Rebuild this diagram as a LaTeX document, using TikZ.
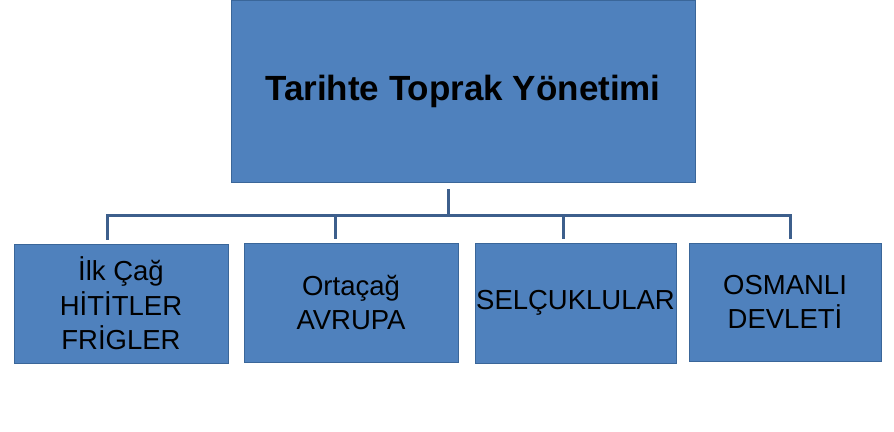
\documentclass[tikz,border=0pt]{standalone}
\usepackage{fontspec}
\setmainfont{Liberation Sans}
\definecolor{boxblue}{HTML}{4F81BD}
\definecolor{boxedge}{HTML}{3A6699}
\definecolor{linkblue}{HTML}{3D5F8C}
\begin{document}
\begin{tikzpicture}[x=1pt,y=-1pt,
                    main node/.style={rectangle,fill=boxblue,draw=boxedge,line width=0.8pt,
                                      inner sep=0pt,align=center,text=black},
                    title node/.style={main node,font=\bfseries\fontsize{35}{42}\selectfont},
                    era node/.style={main node,font=\fontsize{27.5}{34.5}\selectfont},
                    link/.style={draw=linkblue,line width=3pt}]
        \useasboundingbox (0,0) rectangle (894,431);

        \node[title node,minimum width=464pt,minimum height=182pt] (top) at (463,91) {Tarihte Toprak Yönetimi};

        \node[era node,minimum width=214pt,minimum height=119pt] (ilk) at (121,303.5) {İlk Çağ\\HİTİTLER\\FRİGLER};
        \node[era node,minimum width=214pt,minimum height=119pt] (orta) at (351,302.5) {Ortaçağ\\AVRUPA};
        \node[era node,minimum width=201pt,minimum height=120pt] (selcuk) at (575.5,303) {SELÇUKLULAR};
        \node[era node,minimum width=192pt,minimum height=118pt] (osm) at (785,302) {OSMANLI\\DEVLETİ};

        \coordinate (hub) at (448,215);
        \path[link,shorten <=7pt] (hub |- top.south) edge (hub);

        \foreach \n/\x in {ilk/107,orta/335,selcuk/563,osm/790} {
            \coordinate (drop-\n) at (\x,215);
            \draw[link,shorten >=4pt] (hub) -- (drop-\n) -- (drop-\n |- \n.north);
        }
\end{tikzpicture}
\end{document}
